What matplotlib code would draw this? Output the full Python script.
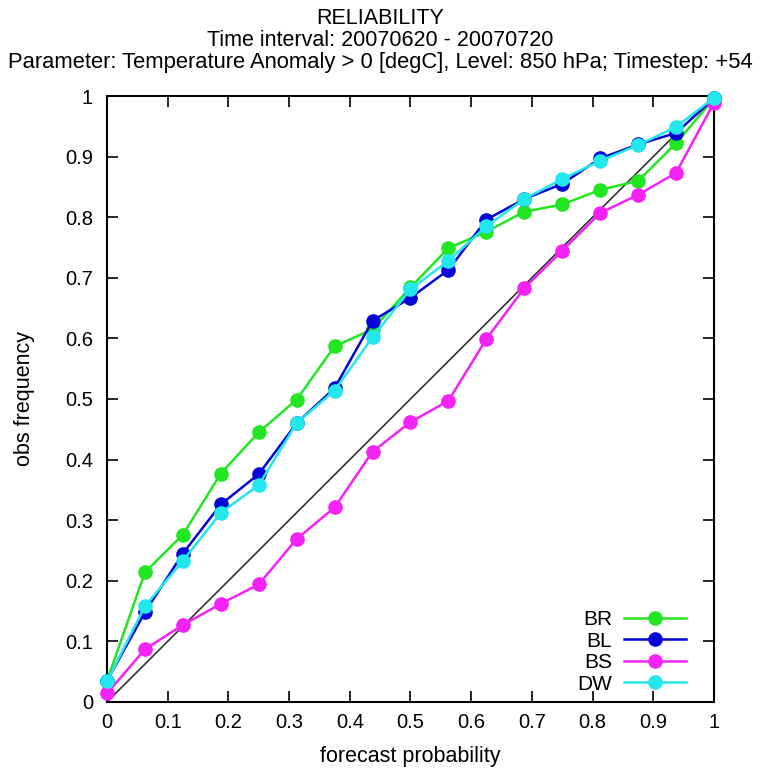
import matplotlib
matplotlib.use('Agg')
import matplotlib.pyplot as plt
import numpy as np

plt.rcParams['font.family'] = ['Liberation Sans', 'DejaVu Sans']

# forecast probability bins (17 classes)
prob = [0, 0.0625, 0.125, 0.1875, 0.25, 0.3125, 0.375, 0.4375, 0.5,
        0.5625, 0.625, 0.6875, 0.75, 0.8125, 0.875, 0.9375, 1.0]

br = [0.035, 0.214, 0.276, 0.377, 0.445, 0.499, 0.587, 0.615, 0.684,
      0.749, 0.776, 0.809, 0.821, 0.845, 0.860, 0.922, 0.996]
bl = [0.035, 0.148, 0.245, 0.326, 0.376, 0.460, 0.518, 0.629, 0.667,
      0.713, 0.796, 0.830, 0.855, 0.897, 0.920, 0.939, 0.996]
bs = [0.014, 0.087, 0.127, 0.162, 0.194, 0.269, 0.321, 0.413, 0.462,
      0.497, 0.599, 0.683, 0.745, 0.807, 0.837, 0.873, 0.989]
dw = [0.034, 0.158, 0.233, 0.312, 0.358, 0.460, 0.514, 0.602, 0.681,
      0.728, 0.785, 0.830, 0.863, 0.893, 0.919, 0.949, 0.997]

series = [('BR', br, '#22e622'),
          ('BL', bl, '#0505d8'),
          ('BS', bs, '#f522f5'),
          ('DW', dw, '#22e8ee')]

ticks = [0, 0.1, 0.2, 0.3, 0.4, 0.5, 0.6, 0.7, 0.8, 0.9, 1]
ticklabels = ['0', '0.1', '0.2', '0.3', '0.4', '0.5', '0.6', '0.7', '0.8', '0.9', '1']

fig = plt.figure(figsize=(7.61, 7.73), dpi=100)
ax = fig.add_axes([0.1406, 0.0919, 0.7976, 0.7839])

# perfect reliability diagonal
ax.plot([0, 1], [0, 1], color='#333333', lw=1.2, zorder=2)

for name, vals, col in series:
    ax.plot(prob, vals, color=col, lw=1.8, marker='o', markersize=9.5,
            markeredgecolor=col, label=name, clip_on=False, zorder=3)

ax.set_xlim(0, 1)
ax.set_ylim(0, 1)
ax.set_xticks(ticks)
ax.set_xticklabels(ticklabels)
ax.set_yticks(ticks)
ax.set_yticklabels(ticklabels)
ax.tick_params(axis='x', direction='in', length=8, width=1.2, top=True,
               labelsize=14.5, pad=8)
ax.tick_params(axis='y', direction='in', length=8, width=1.2, right=True,
               labelsize=14.5, pad=10)
for s in ax.spines.values():
    s.set_linewidth(1.5)

ax.set_xlabel('forecast probability', fontsize=15.5, labelpad=10)
ax.set_ylabel('obs frequency', fontsize=15.5, labelpad=22)

fig.text(0.5, 0.976, 'RELIABILITY', ha='center', va='center', fontsize=15.5)
fig.text(0.5, 0.948, 'Time interval: 20070620 - 20070720', ha='center',
         va='center', fontsize=15.5)
fig.text(0.5, 0.919, 'Parameter: Temperature Anomaly > 0 [degC], Level: 850 hPa; Timestep: +54',
         ha='center', va='center', fontsize=15.8)

leg = ax.legend(loc='lower right', bbox_to_anchor=(0.985, -0.017), frameon=False,
                fontsize=15, markerfirst=False, handlelength=3.0,
                labelspacing=0.12, handletextpad=0.55)
for t in leg.get_texts():
    t.set_ha('right')

fig.savefig('out.png', dpi=100)
